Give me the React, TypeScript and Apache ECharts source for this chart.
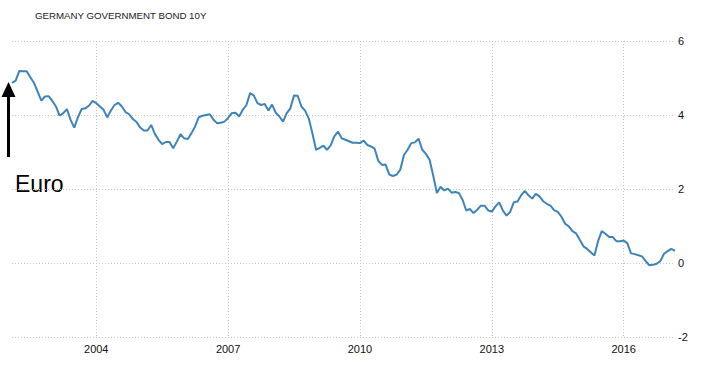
import React, { useEffect, useRef } from "react";
import * as echarts from "echarts";

// Monthly categories Feb 2002 .. Mar 2017
const startYear = 2002;
const startMonth = 2;
const yields: number[] = [
  4.87, 4.93, 5.19, 5.18, 5.18, 5.02, 4.87, 4.63, 4.39, 4.50,
  4.51, 4.38, 4.23, 3.98, 4.05, 4.16, 3.87, 3.66, 3.94, 4.16,
  4.18, 4.25, 4.38, 4.32, 4.23, 4.14, 3.94, 4.12, 4.27, 4.33,
  4.23, 4.08, 4.02, 3.89, 3.81, 3.66, 3.58, 3.58, 3.73, 3.49,
  3.33, 3.21, 3.27, 3.27, 3.10, 3.28, 3.48, 3.37, 3.35, 3.51,
  3.69, 3.94, 3.98, 4.00, 4.02, 3.87, 3.78, 3.79, 3.82, 3.92,
  4.05, 4.06, 3.96, 4.14, 4.27, 4.59, 4.53, 4.32, 4.27, 4.30,
  4.12, 4.28, 4.06, 3.96, 3.82, 4.05, 4.18, 4.53, 4.52, 4.23,
  4.12, 3.91, 3.51, 3.06, 3.11, 3.17, 3.06, 3.18, 3.42, 3.55,
  3.37, 3.33, 3.29, 3.25, 3.25, 3.24, 3.31, 3.19, 3.15, 3.09,
  2.76, 2.65, 2.66, 2.39, 2.35, 2.39, 2.52, 2.92, 3.06, 3.24,
  3.26, 3.36, 3.06, 2.95, 2.79, 2.36, 1.89, 2.06, 1.96, 2.01,
  1.90, 1.92, 1.89, 1.71, 1.42, 1.46, 1.35, 1.44, 1.55, 1.55,
  1.42, 1.39, 1.53, 1.64, 1.42, 1.28, 1.38, 1.64, 1.66, 1.83,
  1.95, 1.83, 1.74, 1.87, 1.80, 1.67, 1.60, 1.55, 1.43, 1.38,
  1.25, 1.06, 0.99, 0.86, 0.80, 0.63, 0.45, 0.38, 0.29, 0.20,
  0.59, 0.86, 0.79, 0.70, 0.70, 0.59, 0.59, 0.61, 0.53, 0.26,
  0.24, 0.21, 0.18, 0.05, -0.06, -0.05, -0.02, 0.05, 0.25, 0.32,
  0.38, 0.33,
];
const labeledYears = ["2004", "2007", "2010", "2013", "2016"];
const yTicks = { min: -2, max: 6, interval: 2 };
const titleText = "GERMANY GOVERNMENT BOND 10Y";
const annotationText = "Euro";

const months: string[] = yields.map((_, i) => {
  const m0 = startMonth - 1 + i;
  const y = startYear + Math.floor(m0 / 12);
  const m = (m0 % 12) + 1;
  return `${y}-${m < 10 ? "0" + m : m}`;
});

const isLabeled = (_i: number, v: string) =>
  v.endsWith("-01") && labeledYears.includes(v.slice(0, 4));

export default function App() {
  const ref = useRef<HTMLDivElement>(null);
  useEffect(() => {
    if (!ref.current) return;
    const chart = echarts.init(ref.current, null, { renderer: "svg" });
    chart.setOption({
      animation: false,
      backgroundColor: "#ffffff",
      title: {
        text: titleText,
        left: 35,
        top: 10,
        padding: 0,
        textStyle: {
          fontSize: 9.7,
          fontWeight: "normal",
          color: "#222",
          fontFamily: "Liberation Sans",
        },
      },
      grid: { left: 12, right: 32, top: 41, bottom: 29, containLabel: false },
      xAxis: {
        type: "category",
        data: months,
        boundaryGap: false,
        axisLine: { show: false },
        axisTick: { show: false },
        axisLabel: {
          interval: isLabeled,
          formatter: (v: string) => v.slice(0, 4),
          fontSize: 11,
          color: "#111",
          fontFamily: "Liberation Sans",
          margin: 6,
        },
        splitLine: {
          show: true,
          interval: isLabeled,
          lineStyle: { color: "#c8c8c8", type: [1, 2], width: 1 },
        },
      },
      yAxis: {
        type: "value",
        position: "right",
        min: yTicks.min,
        max: yTicks.max,
        interval: yTicks.interval,
        axisLine: { show: false },
        axisTick: { show: false },
        axisLabel: {
          fontSize: 11,
          color: "#111",
          fontFamily: "Liberation Sans",
          margin: 3,
        },
        splitLine: {
          lineStyle: { color: "#c8c8c8", type: [1, 2], width: 1 },
        },
      },
      series: [
        {
          type: "line",
          data: yields,
          symbol: "none",
          smooth: false,
          lineStyle: { color: "#3e84b8", width: 2 },
        },
      ],
      graphic: [
        {
          type: "line",
          shape: { x1: 8.5, y1: 94, x2: 8.5, y2: 157 },
          style: { stroke: "#000", lineWidth: 3 },
        },
        {
          type: "polygon",
          shape: { points: [[8.5, 82], [1.5, 97], [15.5, 97]] },
          style: { fill: "#000" },
        },
        {
          type: "text",
          x: 15,
          y: 183.5,
          style: {
            text: annotationText,
            fontSize: 23,
            fontFamily: "Liberation Sans",
            fill: "#000",
            verticalAlign: "middle",
            align: "left",
          },
        },
      ],
    });
    return () => chart.dispose();
  }, []);
  return (
    <div
      ref={ref}
      style={{ position: "fixed", left: 0, top: 0, width: 707, height: 366 }}
    />
  );
}
